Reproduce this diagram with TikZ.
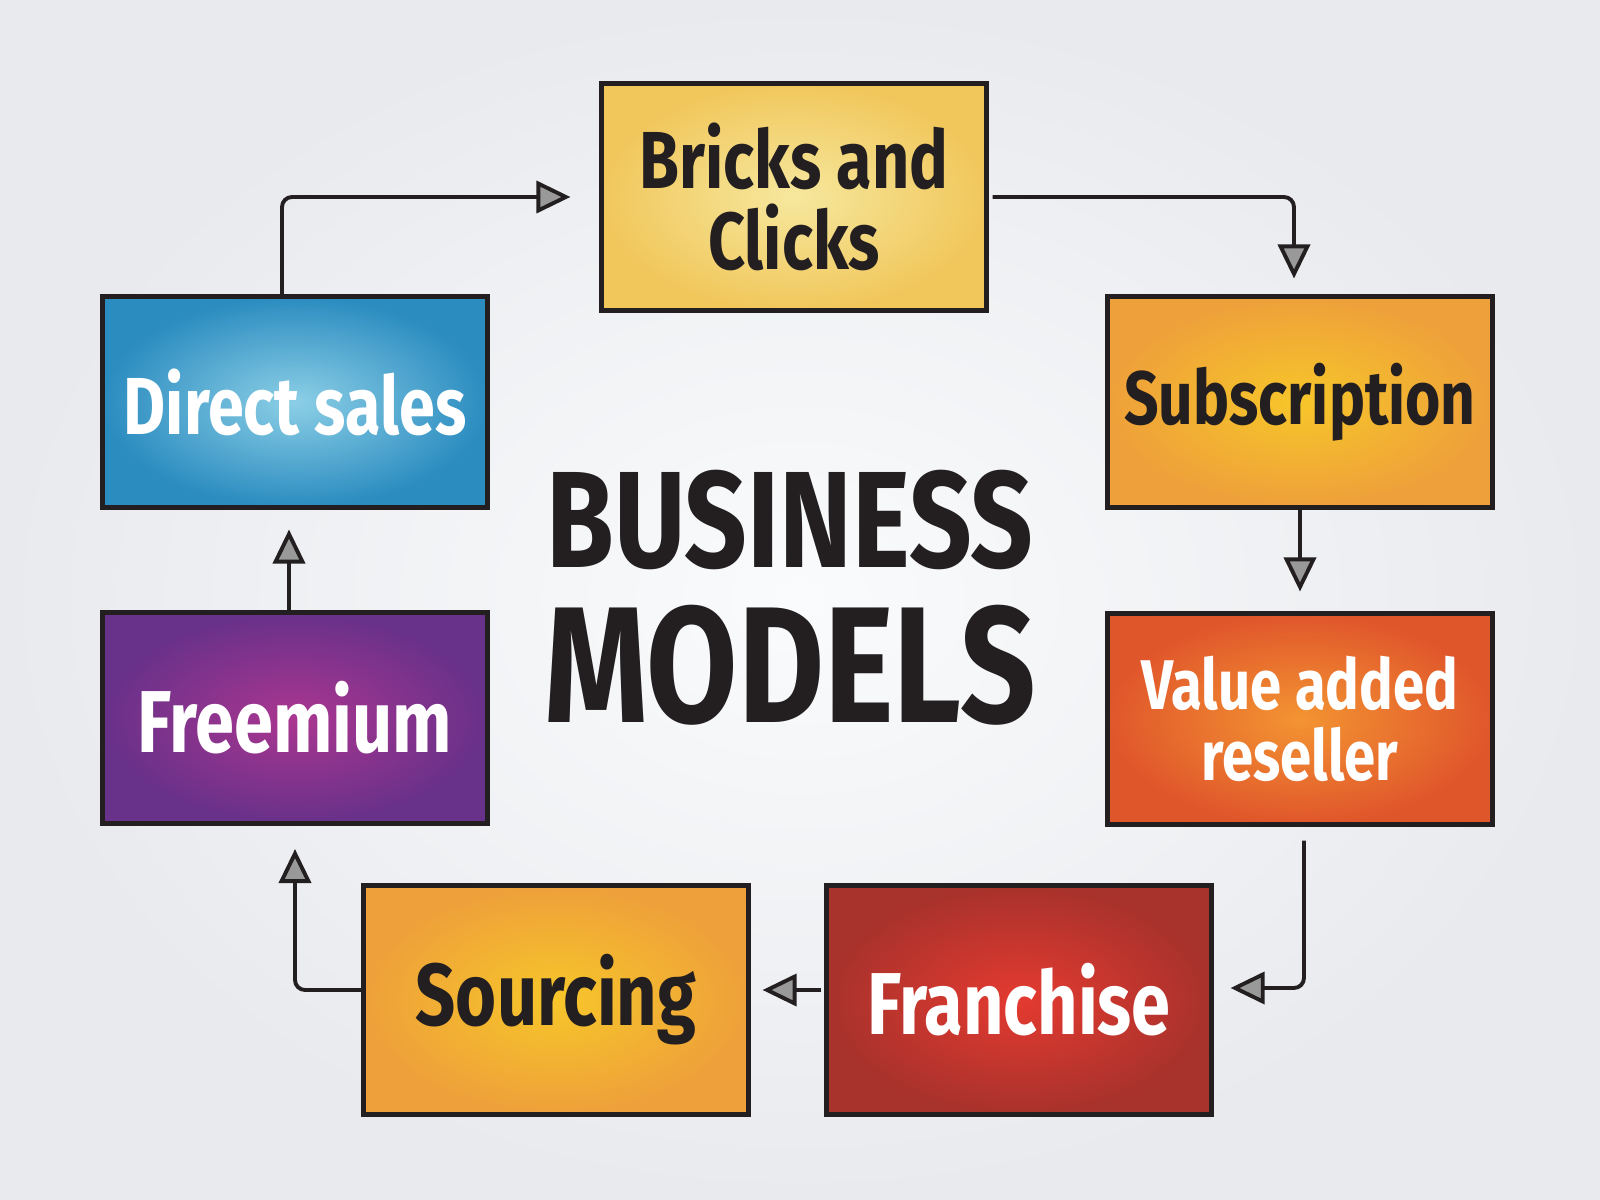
\documentclass[tikz,border=0pt]{standalone}
\usepackage{fontspec}
\newfontfamily\handfont{Fira Sans}[FakeStretch=0.8]
\usetikzlibrary{arrows.meta}

\definecolor{inkBlack}{RGB}{35,31,32}
\definecolor{bgInner}{RGB}{250,251,252}
\definecolor{bgOuter}{RGB}{232,234,238}
\definecolor{paleIn}{RGB}{246,232,158}
\definecolor{paleOut}{RGB}{241,199,92}
\definecolor{amberIn}{RGB}{247,198,42}
\definecolor{amberOut}{RGB}{238,160,58}
\definecolor{tangerineIn}{RGB}{243,148,50}
\definecolor{tangerineOut}{RGB}{224,86,43}
\definecolor{redIn}{RGB}{228,58,48}
\definecolor{redOut}{RGB}{168,50,44}
\definecolor{purpleIn}{RGB}{170,54,144}
\definecolor{purpleOut}{RGB}{104,49,138}
\definecolor{blueIn}{RGB}{140,207,230}
\definecolor{blueOut}{RGB}{43,140,192}

\begin{document}
\begin{tikzpicture}
[x=0.01cm, y=-0.01cm,
  boxDecorate/.style={draw=inkBlack, line width=1.4pt, minimum width=3.84cm,
    inner sep=0pt, align=center},
  paleBox/.style={inner color=paleIn, outer color=paleOut, text=inkBlack},
  amberBox/.style={inner color=amberIn, outer color=amberOut, text=inkBlack},
  tangerineBox/.style={inner color=tangerineIn, outer color=tangerineOut, text=white},
  redBox/.style={inner color=redIn, outer color=redOut, text=white},
  purpleBox/.style={inner color=purpleIn, outer color=purpleOut, text=white},
  blueBox/.style={inner color=blueIn, outer color=blueOut, text=white},
  titleDecorate/.style={align=center, text=inkBlack,
    font=\handfont\bfseries\fontsize{39}{44}\selectfont},
  arrowDecorate/.style={-{Triangle[length=3.4mm,width=3.2mm,fill=black!40]},
    draw=inkBlack, line width=1.1pt, rounded corners=0.1cm}]
\useasboundingbox (0,0) rectangle (1600,1200);
\shade[inner color=bgInner, outer color=bgOuter] (0,0) rectangle (1600,1200);
%% boxes
\foreach \nodename/\x/\y/\h/\fs/\look/\txt in {
  bricks/794/197/2.27/23/paleBox/{Bricks and\\Clicks},
  subscription/1300/402/2.10/21.5/amberBox/{Subscription},
  reseller/1300/719/2.10/20/tangerineBox/{Value added\\reseller},
  franchise/1019/1000/2.29/25/redBox/{Franchise},
  sourcing/556/1000/2.29/25/amberBox/{Sourcing},
  freemium/295/718/2.11/25/purpleBox/{Freemium},
  direct/295/402/2.10/23/blueBox/{Direct sales}}
{
  \node (\nodename) at (\x,\y) [boxDecorate,\look,minimum height=\h cm,
    font=\handfont\bfseries\fontsize{\fs}{\fs}\selectfont] {\txt};
}
%% centre title
\node (title) at (790,598) [titleDecorate] {BUSINESS\\{\fontsize{47}{44}\selectfont MODELS}};
%% edges or lines
\draw[arrowDecorate, shorten >=0.29cm] ([xshift=-0.13cm]direct.north) |- (bricks.west);
\draw[arrowDecorate, shorten >=0.16cm, shorten <=0.04cm] (bricks.east) -| ([xshift=-0.06cm]subscription.north);
\draw[arrowDecorate, shorten >=0.2cm] (subscription.south) -- (reseller.north);
\draw[arrowDecorate, shorten >=0.17cm, shorten <=0.14cm] ([xshift=0.04cm]reseller.south) |- ([yshift=0.12cm]franchise.east);
\draw[arrowDecorate, shorten >=0.12cm, shorten <=0.03cm] ([yshift=0.1cm]franchise.west) -- ([yshift=0.1cm]sourcing.east);
\draw[arrowDecorate, shorten >=0.23cm] ([yshift=0.1cm]sourcing.west) -| (freemium.south);
\draw[arrowDecorate, shorten >=0.2cm] ([xshift=-0.06cm]freemium.north) -- ([xshift=-0.06cm]direct.south);
\end{tikzpicture}
\end{document}
